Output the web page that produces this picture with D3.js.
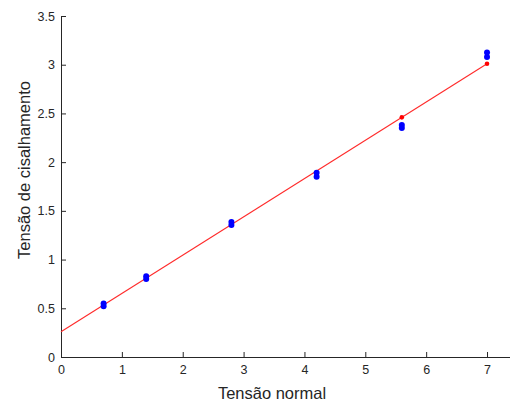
<!DOCTYPE html>
<html>
<head>
<meta charset="utf-8">
<script src="https://cdn.jsdelivr.net/npm/d3@7"></script>
<style>
  body { margin: 0; background: #fff; }
  text { font-family: "Liberation Sans", Arial, sans-serif; }
</style>
</head>
<body>
<svg id="chart"></svg>
<script>
// chart data
const normalStress = [0.7, 1.4, 2.8, 4.2, 5.6, 7.0];
const shearRun1 = [0.52, 0.80, 1.355, 1.85, 2.35, 3.08];
const shearRun2 = [0.55, 0.83, 1.385, 1.89, 2.38, 3.125];
const fitted = [0.535, 0.81, 1.36, 1.89, 2.46, 3.01];
const lineX = [0, 7];
const lineY = [0.26, 3.01];
const xTicks = [0, 1, 2, 3, 4, 5, 6, 7];
const yTicks = [0, 0.5, 1, 1.5, 2, 2.5, 3, 3.5];

const W = 510, H = 402;
const svg = d3.select('#chart').attr('width', W).attr('height', H);

// scales
const x = d3.scaleLinear().domain([0, 7.5]).range([61, 61 + 60.86 * 7.5]);
const y = d3.scaleLinear().domain([0, 3.5]).range([357, 16]);

const axisColor = '#262626';

// x axis, ticks pointing inward
const gx = svg.append('g')
    .attr('transform', `translate(0, ${y(0)})`)
    .call(d3.axisBottom(x).tickValues(xTicks).tickFormat(d3.format('~g'))
        .tickSizeInner(-5).tickSizeOuter(0).tickPadding(8));

// y axis
const gy = svg.append('g')
    .attr('transform', `translate(${x(0)}, 0)`)
    .call(d3.axisLeft(y).tickValues(yTicks).tickFormat(d3.format('~g'))
        .tickSizeInner(-5).tickSizeOuter(0).tickPadding(6));

[gx, gy].forEach(g => {
    g.select('.domain').attr('stroke', axisColor);
    g.selectAll('.tick line').attr('stroke', axisColor);
    g.selectAll('.tick text')
        .attr('fill', axisColor)
        .style('font-size', '12.5px')
        .style('font-family', '"Liberation Sans", Arial, sans-serif');
});

// fitted line
svg.append('path')
    .datum(lineX.map((v, i) => [v, lineY[i]]))
    .attr('fill', 'none')
    .attr('stroke', '#ff2a2a')
    .attr('stroke-width', 1.1)
    .attr('d', d3.line().x(d => x(d[0])).y(d => y(d[1])));

// fitted points
svg.selectAll('.fit')
    .data(normalStress)
    .enter()
    .append('circle')
    .attr('class', 'fit')
    .attr('cx', d => x(d))
    .attr('cy', (d, i) => y(fitted[i]))
    .attr('r', 2.3)
    .attr('fill', '#ff0000');

// measured points
[shearRun1, shearRun2].forEach((run, k) => {
    svg.selectAll('.obs' + k)
        .data(normalStress)
        .enter()
        .append('circle')
        .attr('class', 'obs' + k)
        .attr('cx', d => x(d))
        .attr('cy', (d, i) => y(run[i]))
        .attr('r', 3)
        .attr('fill', '#0000ff');
});

// axis titles
svg.append('text')
    .attr('x', 272)
    .attr('y', 399)
    .attr('text-anchor', 'middle')
    .attr('fill', axisColor)
    .style('font-size', '16.5px')
    .text('Tensão normal');

svg.append('text')
    .attr('transform', 'translate(30, 170) rotate(-90)')
    .attr('text-anchor', 'middle')
    .attr('fill', axisColor)
    .style('font-size', '16.5px')
    .text('Tensão de cisalhamento');
</script>
</body>
</html>
